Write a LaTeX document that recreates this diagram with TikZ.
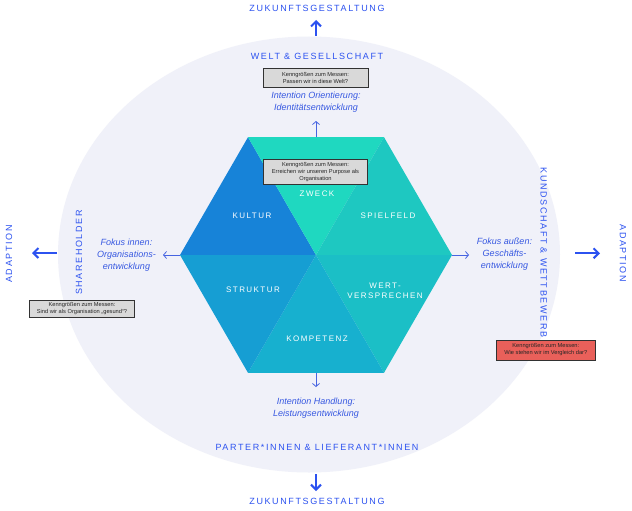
\documentclass[tikz,border=0pt]{standalone}
\usepackage{fontspec}
\setmainfont{Liberation Sans}
\newfontfamily\spacedfont[LetterSpace=18]{Liberation Sans}
\usetikzlibrary{arrows.meta}
\definecolor{capblue}{RGB}{44,82,240}
\definecolor{itblue}{RGB}{55,88,225}
\definecolor{thinblue}{RGB}{70,100,225}
\definecolor{ellfill}{RGB}{240,241,249}
\definecolor{cKultur}{RGB}{23,131,216}
\definecolor{cZweck}{RGB}{31,216,192}
\definecolor{cSpiel}{RGB}{30,200,193}
\definecolor{cStruktur}{RGB}{22,158,211}
\definecolor{cKomp}{RGB}{23,176,207}
\definecolor{cWert}{RGB}{27,191,198}
\definecolor{boxgray}{RGB}{217,217,217}
\definecolor{boxborder}{RGB}{50,50,50}
\definecolor{boxred}{RGB}{233,96,90}
\begin{document}
\begin{tikzpicture}[x=1pt,y=-1pt,
  caplabel/.style={text=capblue, font=\spacedfont\fontsize{9}{11}\selectfont, inner sep=0pt},
  hexlabel/.style={text=white, font=\spacedfont\fontsize{8}{10}\selectfont, align=center, inner sep=0pt},
  intent/.style={text=itblue, font=\itshape\fontsize{9}{12}\selectfont, align=center, inner sep=0pt},
  kbox/.style={draw=boxborder, fill=boxgray, line width=0.9pt, inner sep=0pt, align=center, font=\fontsize{5.7}{7}\selectfont, text=black!85},
  bigarrow/.style={draw=capblue, line width=2pt, -{Straight Barb[length=5pt, width=10pt]}},
  thinarrow/.style={draw=thinblue, line width=0.8pt, -{Straight Barb[length=3pt, width=7pt]}}
]
\useasboundingbox (0,0) rectangle (632,511);
\fill[white] (0,0) rectangle (632,511);
% ellipse
\fill[ellfill] (309,254.5) ellipse [x radius=251, y radius=218];
% hexagon coordinates
\coordinate (C) at (316,255);
\coordinate (TL) at (248,137.2);
\coordinate (TR) at (384,137.2);
\coordinate (L) at (180,255);
\coordinate (R) at (452,255);
\coordinate (BL) at (248,372.8);
\coordinate (BR) at (384,372.8);
\coordinate (Ttop) at (316,137.2);
\coordinate (Tbot) at (316,372.8);
\fill[cKultur] (TL) -- (L) -- (C) -- cycle;
\fill[cZweck] (TL) -- (TR) -- (C) -- cycle;
\fill[cSpiel] (TR) -- (R) -- (C) -- cycle;
\fill[cWert] (R) -- (BR) -- (C) -- cycle;
\fill[cKomp] (BR) -- (BL) -- (C) -- cycle;
\fill[cStruktur] (BL) -- (L) -- (C) -- cycle;
% hexagon labels
\node[hexlabel] (zweck) at (317,194) {ZWECK};
\node[hexlabel] (kultur) at (252,216) {KULTUR};
\node[hexlabel] (spiel) at (388,216) {SPIELFELD};
\node[hexlabel] (struktur) at (253,290) {STRUKTUR};
\node[hexlabel] (wert) at (385,291) {WERT-\\VERSPRECHEN};
\node[hexlabel] (komp) at (317,339) {KOMPETENZ};
% center box
\node[kbox, minimum width=104pt, minimum height=25pt] (boxC) at (315.5,171.8) {Kenngrößen zum Messen:\\Erreichen wir unseren Purpose als\\Organisation};
% top
\node[caplabel] (zukTop) at (317,8) {ZUKUNFTSGESTALTUNG};
\coordinate (aTopS) at (316,36);
\coordinate (aTopE) at (316,20);
\draw[bigarrow] (aTopS) -- (aTopE);
\node[caplabel] (welt) at (317,56.5) {WELT \& GESELLSCHAFT};
\node[kbox, minimum width=105pt, minimum height=19pt] (boxTop) at (315.5,77.5) {Kenngrößen zum Messen:\\Passen wir in diese Welt?};
\node[intent] (intOri) at (316,102) {Intention Orientierung:\\Identitätsentwicklung};
\coordinate (upEnd) at (316,121);
\draw[thinarrow] (Ttop) -- (upEnd);
% bottom
\coordinate (downEnd) at (316,387);
\draw[thinarrow] (Tbot) -- (downEnd);
\node[intent] (intHand) at (316,408) {Intention Handlung:\\Leistungsentwicklung};
\node[caplabel] (partner) at (317,447.5) {PARTER*INNEN \& LIEFERANT*INNEN};
\coordinate (aBotS) at (316,474);
\coordinate (aBotE) at (316,491);
\draw[bigarrow] (aBotS) -- (aBotE);
\node[caplabel] (zukBot) at (317,501) {ZUKUNFTSGESTALTUNG};
% left
\node[caplabel, rotate=90] (adaL) at (9,254) {ADAPTION};
\coordinate (aLS) at (57,253);
\coordinate (aLE) at (32,253);
\draw[bigarrow] (aLS) -- (aLE);
\node[caplabel, rotate=90] (share) at (79,252.5) {SHAREHOLDER};
\node[intent] (fokIn) at (126.5,255) {Fokus innen:\\Organisations-\\entwicklung};
\coordinate (leftEnd) at (163,255);
\draw[thinarrow] (L) -- (leftEnd);
\node[kbox, minimum width=105.7pt, minimum height=17.3pt] (boxL) at (82,308.7) {Kenngrößen zum Messen:\\Sind wir als Organisation „gesund“?};
% right
\coordinate (rightEnd) at (469,255);
\draw[thinarrow] (R) -- (rightEnd);
\node[intent] (fokOut) at (504.5,254) {Fokus außen:\\Geschäfts-\\entwicklung};
\node[caplabel, rotate=-90] (kund) at (543.7,252.5) {KUNDSCHAFT \& WETTBEWERB};
\coordinate (aRS) at (575,253.3);
\coordinate (aRE) at (600,253.3);
\draw[bigarrow] (aRS) -- (aRE);
\node[caplabel, rotate=-90] (adaR) at (623,253.3) {ADAPTION};
\node[kbox, fill=boxred, minimum width=98.3pt, minimum height=20pt] (boxR) at (545.8,350) {Kenngrößen zum Messen:\\Wie stehen wir im Vergleich dar?};
\end{tikzpicture}
\end{document}
